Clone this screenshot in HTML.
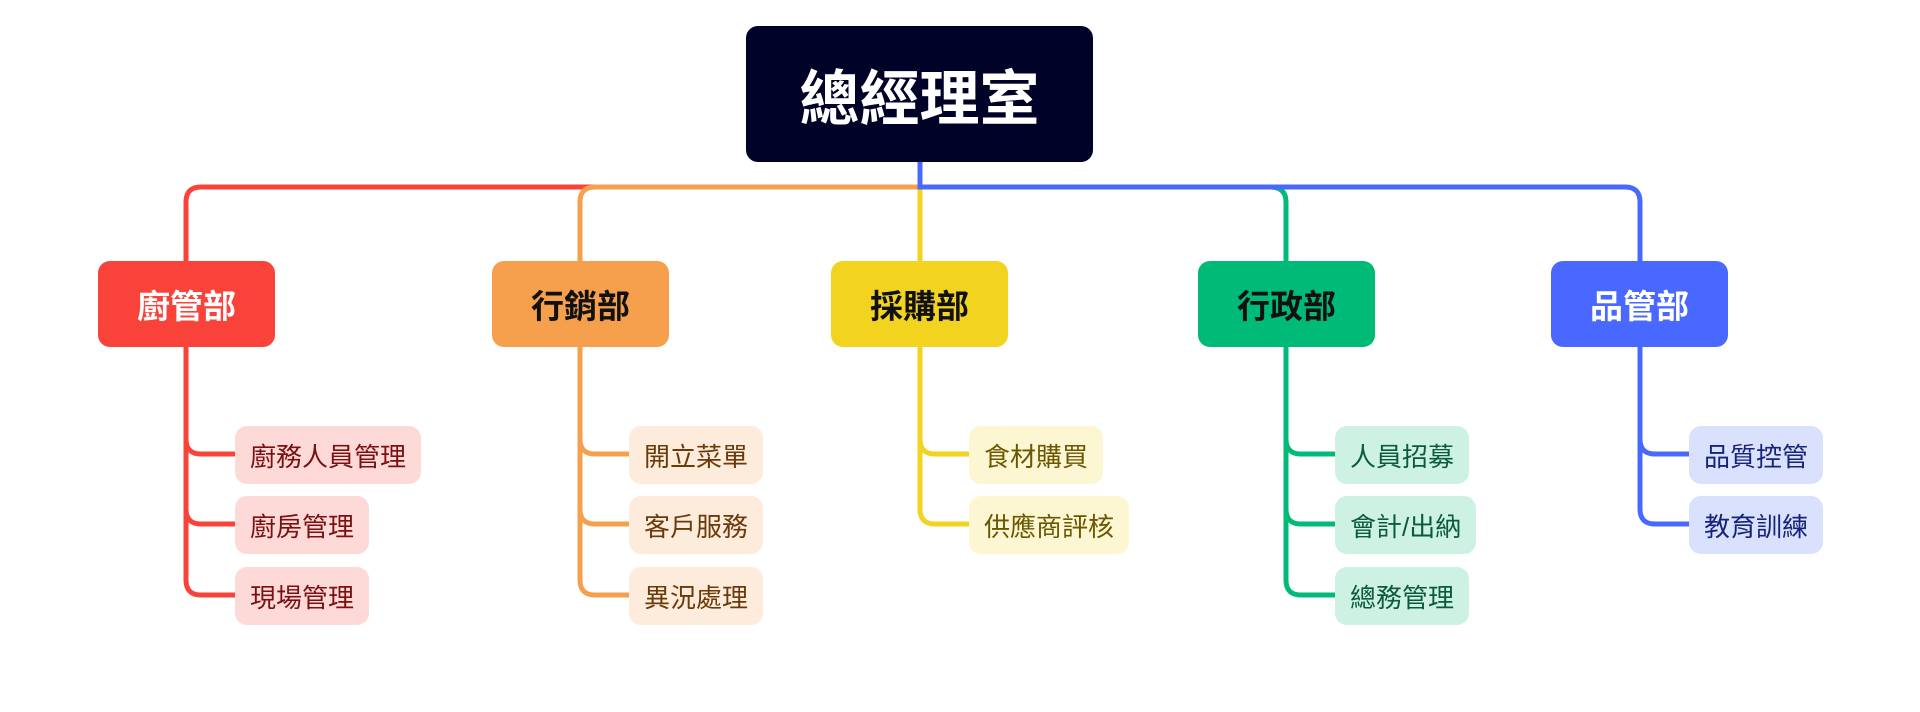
<!DOCTYPE html>
<html><head><meta charset="utf-8"><style>
body{margin:0;width:1920px;height:712px;background:#fff;position:relative;overflow:hidden;font-family:"Liberation Sans","Noto Sans CJK TC",sans-serif}
.b{position:absolute;display:flex;align-items:center;justify-content:center;box-sizing:border-box;white-space:nowrap}
.root{left:746px;top:26px;width:347px;height:136px;background:#000228;color:#fff;font-size:60px;font-weight:bold;border-radius:12px}
.d{top:261px;height:86px;width:177px;font-size:33px;font-weight:bold;border-radius:12px}
.c{height:58px;font-size:26px;border-radius:12px;padding:0 15px}
svg{position:absolute;left:0;top:0}
</style></head><body>
<svg width="1920" height="712" fill="none" stroke-width="5" stroke-linecap="round">
<path d="M600 187 H201 Q186 187 186 202 V261" stroke="#F9423A"/>
<path d="M186 347 V580 Q186 595 201 595 H235 M186 439 Q186 454 201 454 H235 M186 509 Q186 524 201 524 H235" stroke="#F9423A"/>
<path d="M920 187 H595 Q580 187 580 202 V261" stroke="#F6A04D"/>
<path d="M580 347 V580 Q580 595 595 595 H629 M580 439 Q580 454 595 454 H629 M580 509 Q580 524 595 524 H629" stroke="#F6A04D"/>
<path d="M920 187 V261" stroke="#F2D31F"/>
<path d="M920 347 V509 Q920 524 935 524 H969 M920 439 Q920 454 935 454 H969" stroke="#F2D31F"/>
<path d="M1270 187 Q1286 187 1286 202 V261" stroke="#00BA78"/>
<path d="M1286 347 V580 Q1286 595 1301 595 H1335 M1286 439 Q1286 454 1301 454 H1335 M1286 509 Q1286 524 1301 524 H1335" stroke="#00BA78"/>
<path d="M920 162 V187 H1625 Q1640 187 1640 202 V261" stroke="#4868FF"/>
<path d="M1640 347 V509 Q1640 524 1655 524 H1689 M1640 439 Q1640 454 1655 454 H1689" stroke="#4868FF"/>
</svg>
<div class="b root">總經理室</div>
<div class="b d" style="left:98px;background:#F9423A;color:#fff">廚管部</div>
<div class="b d" style="left:492px;background:#F6A04D;color:#111">行銷部</div>
<div class="b d" style="left:831px;background:#F2D31F;color:#111">採購部</div>
<div class="b d" style="left:1198px;background:#00BA78;color:#111">行政部</div>
<div class="b d" style="left:1551px;background:#4868FF;color:#fff">品管部</div>

<div class="b c" style="left:235px;top:426px;background:#FDDAD8;color:#7a1010">廚務人員管理</div>
<div class="b c" style="left:235px;top:496px;background:#FDDAD8;color:#7a1010">廚房管理</div>
<div class="b c" style="left:235px;top:567px;background:#FDDAD8;color:#7a1010">現場管理</div>

<div class="b c" style="left:629px;top:426px;background:#FDECDB;color:#6b3a0a">開立菜單</div>
<div class="b c" style="left:629px;top:496px;background:#FDECDB;color:#6b3a0a">客戶服務</div>
<div class="b c" style="left:629px;top:567px;background:#FDECDB;color:#6b3a0a">異況處理</div>

<div class="b c" style="left:969px;top:426px;background:#FCF6D3;color:#6b5700">食材購買</div>
<div class="b c" style="left:969px;top:496px;background:#FCF6D3;color:#6b5700">供應商評核</div>

<div class="b c" style="left:1335px;top:426px;background:#CDF2E4;color:#0b5a3b">人員招募</div>
<div class="b c" style="left:1335px;top:496px;background:#CDF2E4;color:#0b5a3b">會計/出納</div>
<div class="b c" style="left:1335px;top:567px;background:#CDF2E4;color:#0b5a3b">總務管理</div>

<div class="b c" style="left:1689px;top:426px;background:#DAE1FD;color:#16247a">品質控管</div>
<div class="b c" style="left:1689px;top:496px;background:#DAE1FD;color:#16247a">教育訓練</div>
</body></html>
